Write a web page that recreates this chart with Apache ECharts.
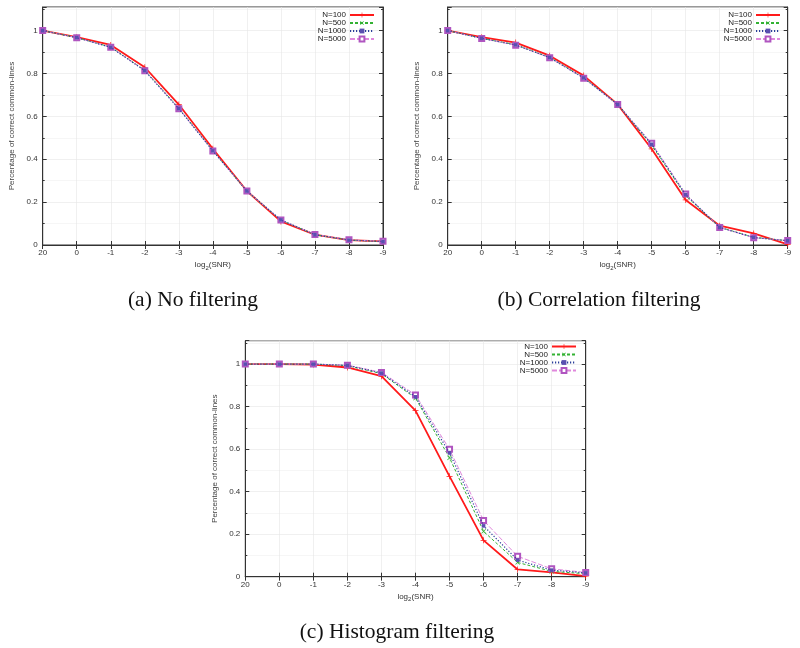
<!DOCTYPE html>
<html><head><meta charset="utf-8">
<script src="https://cdn.jsdelivr.net/npm/echarts@6/dist/echarts.min.js"></script>
<style>html,body{margin:0;padding:0;background:#fff}#c{width:800px;height:648px}</style>
</head><body><div id="c"></div>
<script>
var categories = ['20','0','-1','-2','-3','-4','-5','-6','-7','-8','-9'];
var seriesNames = ['N=100','N=500','N=1000','N=5000'];
var yTicks = [0, 0.2, 0.4, 0.6, 0.8, 1];

var a_N100  = [1.0, 0.969, 0.933, 0.829, 0.655, 0.449, 0.252, 0.110, 0.048, 0.023, 0.017];
var a_N500  = [1.0, 0.967, 0.923, 0.815, 0.638, 0.440, 0.251, 0.116, 0.048, 0.023, 0.016];
var a_N1000 = [1.0, 0.967, 0.922, 0.813, 0.636, 0.439, 0.252, 0.117, 0.048, 0.023, 0.016];
var a_N5000 = [1.0, 0.967, 0.922, 0.813, 0.636, 0.438, 0.252, 0.117, 0.049, 0.024, 0.017];

var b_N100  = [1.0, 0.969, 0.944, 0.883, 0.790, 0.656, 0.448, 0.210, 0.090, 0.054, 0.003];
var b_N500  = [1.0, 0.964, 0.934, 0.875, 0.780, 0.656, 0.465, 0.230, 0.083, 0.036, 0.020];
var b_N1000 = [1.0, 0.964, 0.933, 0.874, 0.779, 0.655, 0.470, 0.235, 0.082, 0.035, 0.020];
var b_N5000 = [1.0, 0.963, 0.932, 0.873, 0.778, 0.655, 0.474, 0.238, 0.082, 0.034, 0.021];

var c_N100  = [1.0, 1.0, 0.998, 0.984, 0.943, 0.781, 0.472, 0.171, 0.034, 0.020, 0.003];
var c_N500  = [1.0, 1.0, 1.0, 0.993, 0.955, 0.840, 0.559, 0.213, 0.067, 0.025, 0.014];
var c_N1000 = [1.0, 1.0, 1.0, 0.994, 0.958, 0.846, 0.582, 0.239, 0.078, 0.031, 0.018];
var c_N5000 = [1.0, 1.0, 1.0, 0.995, 0.961, 0.855, 0.599, 0.264, 0.096, 0.037, 0.020];

var captions = ['(a) No filtering', '(b) Correlation filtering', '(c) Histogram filtering'];
var yName = 'Percentage of correct common-lines';

var panels = [
  {data: [a_N100, a_N500, a_N1000, a_N5000], grid: {left: 42.7, top: 7, width: 340.3, height: 238},
   legend: {right: 425, top: 11}, cap: {left: 188, top: 284}},
  {data: [b_N100, b_N500, b_N1000, b_N5000], grid: {left: 447.7, top: 7, width: 340, height: 238},
   legend: {right: 19, top: 11}, cap: {left: 594, top: 284}},
  {data: [c_N100, c_N500, c_N1000, c_N5000], grid: {left: 245.3, top: 340.7, width: 340.4, height: 236},
   legend: {right: 223, top: 342.5}, cap: {left: 392, top: 616}}
];

var plusPath = 'path://M4.4,0H5.6V10H4.4ZM0,4.4H10V5.6H0Z';
var styles = [
  {color: '#ff1a1a', lineType: 'solid', width: 1.8, symbol: plusPath, size: 6, rotate: 0, fill: '#ff1a1a', z: 2},
  {color: '#33b233', lineType: [3, 2], width: 1, symbol: plusPath, size: 6, rotate: 45, fill: '#33b233', z: 3},
  {color: '#2a3f9a', lineType: [1.2, 1.8], width: 1.2, symbol: 'rect', size: 3.6, rotate: 0, fill: '#5a4fb0', z: 5},
  {color: '#e088dc', lineType: [5, 2], width: 1, symbol: 'emptyRect', size: 5, rotate: 0, fill: '#b055c0', z: 4}
];

var fontFam = '"Liberation Sans", Arial, sans-serif';
var grids = [], xAxes = [], yAxes = [], series = [], legends = [], titles = [];

panels.forEach(function (p, i) {
  grids.push(Object.assign({show: true, borderColor: '#333', borderWidth: 1, containLabel: false}, p.grid));
  xAxes.push({
    type: 'category', data: categories, gridIndex: i, boundaryGap: false, position: 'bottom',
    axisLine: {lineStyle: {color: '#333', width: 1}},
    axisTick: {inside: true, length: 4, lineStyle: {color: '#333'}},
    axisLabel: {color: '#333', fontSize: 8, fontFamily: fontFam, margin: 4},
    splitLine: {show: true, lineStyle: {color: '#e6e6e6', width: 0.6}},
    name: 'log{s|2}(SNR)', nameLocation: 'middle', nameGap: 14,
    nameTextStyle: {color: '#333', fontSize: 8, fontFamily: fontFam,
      rich: {s: {fontSize: 6, verticalAlign: 'bottom', padding: [6, 0, 0, 0], color: '#333', fontFamily: fontFam}}}
  });
  xAxes.push({
    type: 'category', data: categories, gridIndex: i, boundaryGap: false, position: 'top',
    axisLine: {lineStyle: {color: '#333', width: 1}},
    axisTick: {inside: true, length: 4, lineStyle: {color: '#333'}},
    axisLabel: {show: false}, splitLine: {show: false}
  });
  yAxes.push({
    type: 'value', gridIndex: i, min: 0, max: 1.11, interval: 0.2, position: 'left',
    axisLine: {show: true, lineStyle: {color: '#333', width: 1}},
    axisTick: {show: true, inside: true, length: 4, lineStyle: {color: '#333'}},
    minorTick: {show: true, splitNumber: 2, length: 2, lineStyle: {color: '#333'}},
    axisLabel: {color: '#333', fontSize: 8, fontFamily: fontFam, margin: 5, showMaxLabel: false,
      formatter: function (v) { var r = Math.round(v * 10) / 10; return yTicks.indexOf(r) >= 0 && Math.abs(v - r) < 1e-6 ? String(r) : ''; }},
    splitLine: {show: true, lineStyle: {color: '#e6e6e6', width: 0.6}},
    minorSplitLine: {show: true, lineStyle: {color: '#f0f0f0', width: 0.6}},
    name: yName, nameLocation: 'middle', nameGap: 27, nameRotate: 90,
    nameTextStyle: {color: '#444', fontSize: 8, fontFamily: fontFam}
  });
  yAxes.push({
    type: 'value', gridIndex: i, min: 0, max: 1.11, interval: 0.2, position: 'right',
    axisLine: {show: true, lineStyle: {color: '#333', width: 1}},
    axisTick: {show: true, inside: true, length: 4, lineStyle: {color: '#333'}},
    minorTick: {show: true, splitNumber: 2, length: 2, lineStyle: {color: '#333'}},
    axisLabel: {show: false}, splitLine: {show: false}
  });
  p.data.forEach(function (d, k) {
    var s = styles[k];
    series.push({
      name: seriesNames[k], type: 'line', xAxisIndex: 2 * i, yAxisIndex: 2 * i, data: d,
      symbol: s.symbol, symbolSize: s.size, symbolRotate: s.rotate, showAllSymbol: true,
      lineStyle: {color: s.color, type: s.lineType, width: s.width},
      itemStyle: s.symbol === 'emptyRect' ? {color: s.fill, borderColor: s.fill, borderWidth: 1.3} : {color: s.fill, borderWidth: 0},
      emphasis: {disabled: true}, animation: false, z: s.z
    });
  });
  legends.push({
    data: seriesNames, orient: 'vertical', right: p.legend.right, top: p.legend.top,
    align: 'right', itemWidth: 24, itemHeight: 6, itemGap: 0, padding: 0,
    textStyle: {color: '#222', fontSize: 8, lineHeight: 8, fontFamily: fontFam, padding: [0, -1, 0, 0]},
    selectedMode: false
  });
  titles.push({
    text: captions[i], left: p.cap.left, top: p.cap.top, textAlign: 'center',
    textStyle: {fontFamily: '"Liberation Serif", "DejaVu Serif", serif', fontSize: 21.5, fontWeight: 'normal', color: '#111'}
  });
});

var chart = echarts.init(document.getElementById('c'), null, {renderer: 'canvas'});
chart.setOption({
  backgroundColor: '#fff', animation: false,
  title: titles, grid: grids, xAxis: xAxes, yAxis: yAxes, legend: legends, series: series
});
</script></body></html>
